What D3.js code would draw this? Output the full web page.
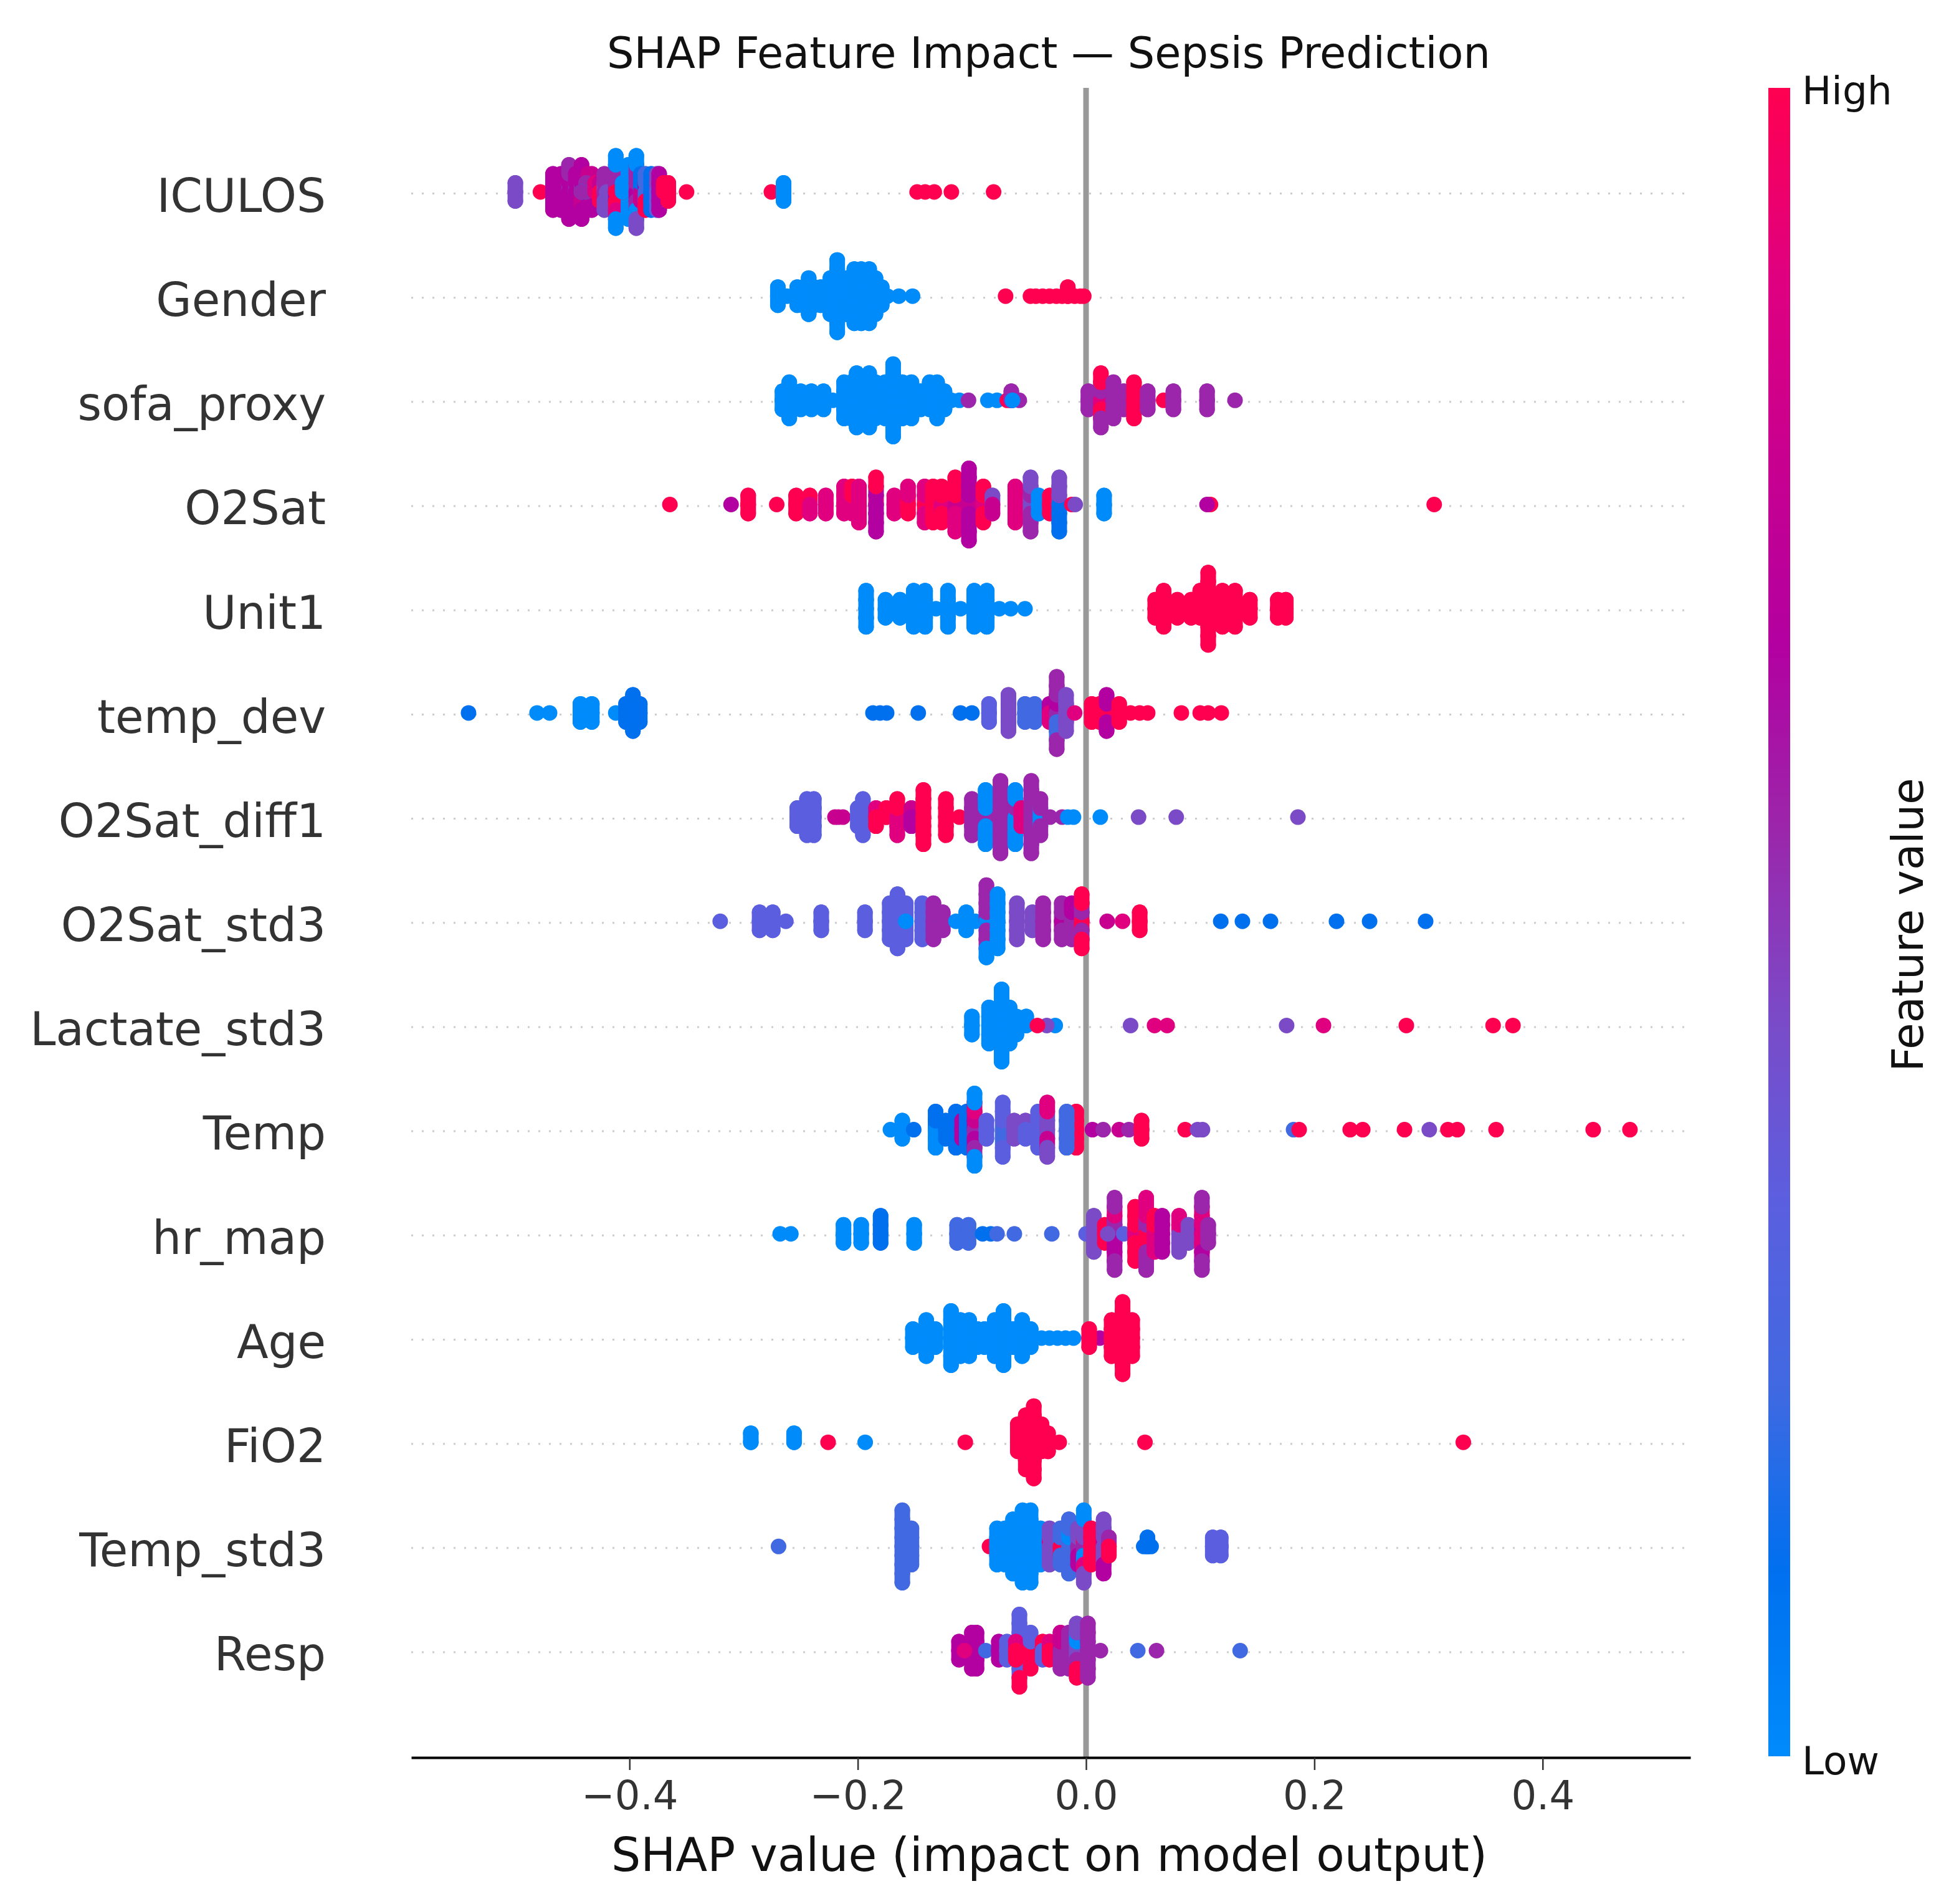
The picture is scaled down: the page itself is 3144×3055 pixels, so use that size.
<!DOCTYPE html>
<html>
<head>
<meta charset="utf-8">
<script src="https://cdn.jsdelivr.net/npm/d3@7/dist/d3.min.js"></script>
<style>
  html, body { margin: 0; background: #fff; }
  svg { display: block; font-family: "DejaVu Sans", sans-serif; }
</style>
</head>
<body>
<div id="chart"></div>
<script>
// Feature order, top to bottom.
const featureNames = ["ICULOS","Gender","sofa_proxy","O2Sat","Unit1","temp_dev","O2Sat_diff1","O2Sat_std3","Lactate_std3","Temp","hr_map","Age","FiO2","Temp_std3","Resp"];
const xTicks = [-0.4,-0.2,0,0.2,0.4];

// Each entry: [SHAP value, [feature level of every sample in that swarm column]].
// Levels run 0 (low) to 9 (high); list order is centre, up, down, up, down...
const iculos = [
[-.5,[4,4,4]],[-.478,[9]],[-.467,[6,6,6,6,6]],[-.46,[6,6,6,6,6]],[-.453,[6,5,6,6,6,5,6]],[-.447,[4,5,6,6,6]],[-.442,[6,5,7,6,7,6,6]],[-.436,[7,7,6,7,6]],[-.433,[7,7,7,7,6]],[-.438,[5,5]],[-.442,[0]],[-.442,[5]],[-.43,[7,8]],[-.426,[8,7,9]],
[-.422,[4,4,5,5,4]],[-.42,[4]],[-.412,[5,8,6,5,9,5,8,0,0]],[-.412,[9]],[-.401,[0,0,0,0,0,0,0]],[-.406,[9,0]],[-.394,[5,5,6,5,5,5,0,0,4]],[-.39,[5,1,7,1]],[-.386,[6,6,2,2,9]],[-.381,[1,1,1,1,1]],[-.376,[3,4,3,4,3]],[-.374,[6,6,6,6,6]],[-.37,[8,9]],[-.366,[9,9,9]],[-.35,[9]],
[-.2757,[9]],[-.265,[0,0,0]],[-.148,[9]],[-.141,[9]],[-.133,[9]],[-.118,[9]],[-.081,[9]]];
const gender = [
[-.27,[0,0,0]],[-.262,[0]],[-.253,[0,0,0]],[-.248,[0,0,0]],[-.243,[0,0,0,0,0]],[-.238,[0,0,0]],[-.2325,[0,0,0]],[-.224,[0,0,0,0,0]],[-.218,[0,0,0,0,0,0,0,0,0]],[-.21,[0,0,0,0,0]],[-.203,[0,0,0,0,0,0,0]],[-.197,[0,0,0,0,0,0,0]],[-.19,[0,0,0,0,0,0,0]],[-.1845,[0,0,0,0,0]],[-.179,[0,0,0]],[-.174,[0]],[-.164,[0]],[-.152,[0]],
[-.0705,[9]],[-.0487,[9]],[-.044,[9]],[-.038,[9]],[-.032,[9]],[-.026,[9]],[-.021,[9]],[-.016,[9,9]],[-.01,[9]],[-.005,[9]],[-.002,[9]]];
const sofaProxy = [
[-.266,[0,0,0]],[-.26,[0,0,0,0,0]],[-.25,[0,0,0]],[-.2406,[0,0,0]],[-.23,[0,0,0]],[-.222,[0]],[-.212,[0,0,0,0,0]],[-.206,[0,0,0,0,0]],[-.201,[0,0,0,0,0,0,0]],[-.19,[0,0,0,0,0,0,0]],[-.1845,[0,0,0,0,0]],[-.176,[0,0,0,0,0]],[-.169,[0,0,0,0,0,0,0,0,0]],[-.161,[0,0,0,0,0]],[-.153,[0,0,0,0,0]],[-.145,[0,0,0]],[-.137,[0,0,0,0]],[-.1305,[0,0,0,0,0]],[-.124,[0,0,0]],[-.118,[0]],[-.111,[0]],[-.103,[5]],[-.086,[0]],[-.078,[0]],[-.069,[9]],[-.0585,[5]],[-.0655,[5,5]],[-.0645,[0]],
[.002,[5,5,5]],[.013,[5,5,8,5,9,9,5]],[.024,[5,5,5,5,5]],[.033,[5,5,5]],[.042,[9,9,9,9,9]],[.054,[5,5,5]],[.068,[9]],[.0765,[5,5,5]],[.106,[5,5,5]],[.1305,[5]]];
const o2Sat = [
[-.3646,[9]],[-.311,[6]],[-.296,[9,9,9]],[-.271,[9]],[-.254,[9,9,9]],[-.242,[8,9,8]],[-.228,[8,8,8]],[-.212,[8,8,8,8]],[-.205,[9,8,8,9]],[-.199,[8,8,8,8,8]],[-.184,[7,8,6,6,6,9,6]],[-.168,[9,8,8]],[-.156,[9,9,9,8]],[-.1414,[9,8,9,8,8]],[-.134,[9,9,9,9,9]],[-.1266,[7,9,8,9,9]],[-.1146,[8,9,7,9,8,9,8]],[-.1026,[6,6,7,6,6,6,6,6,6]],[-.09,[9,8,8,9,9]],[-.082,[4,4,7]],[-.062,[8,8,8,8,8]],[-.0486,[5,4,4,5,5,4,5]],[-.0415,[0,0,0]],[-.0317,[9,9,9]],[-.0235,[1,4,1,4,1,4,1]],[-.0125,[9]],[-.0095,[4]],[.0158,[0,0,0]],[.109,[9]],[.106,[6]],[.305,[9]]];
const unit1 = [
[-.1927,[0,0,0,0,0]],[-.1757,[0,0,0]],[-.163,[0,0,0]],[-.151,[0,0,0,0,0]],[-.141,[0,0,0,0,0]],[-.1315,[0]],[-.121,[0,0,0,0,0]],[-.11,[0]],[-.098,[0,0,0,0,0]],[-.087,[0,0,0,0,0]],[-.076,[0]],[-.066,[0]],[-.0535,[0]],
[.0606,[9,9,9]],[.068,[9,9,9,9,9]],[.08,[9,9,9]],[.092,[9,9,9]],[.1,[9,9,9,9]],[.107,[9,9,9,9,9,9,9,9,9]],[.1195,[9,9,9,9,9]],[.1305,[9,9,9,9,9]],[.1435,[9,9,9]],[.168,[9,9,9]],[.175,[9,9,9]]];
const tempDev = [
[-.541,[1]],[-.481,[0]],[-.47,[0]],[-.443,[0,0,0]],[-.433,[0,0,0]],[-.412,[0]],[-.403,[1,1,1]],[-.397,[1,1,1,1,1]],[-.391,[1,1,1]],[-.1867,[1]],[-.1805,[1]],[-.1747,[1]],[-.147,[1]],[-.11,[1]],[-.1,[1]],
[-.085,[3,3,3]],[-.068,[4,4,4,4,4]],[-.0535,[2,2,2]],[-.045,[2,2,2]],[-.032,[8,6,8]],[-.0257,[5,6,5,6,2,5,2,5,5]],[-.0175,[4,4,4,4,4]],[-.01,[8]],[.005,[9,9,9]],[.012,[9,9,9]],[.018,[6,9,9,6,6]],[.029,[9,9,9]],[.039,[9]],[.047,[9]],[.054,[9]],[.0835,[9]],[.1,[9]],[.107,[9]],[.1185,[9]]];
const o2SatDiff1 = [
[-.253,[3,3,3]],[-.2445,[3,3,3,3,3]],[-.2385,[3,3,3,3,3]],[-.22,[7]],[-.217,[7]],[-.213,[7]],[-.2,[3,3,3]],[-.1955,[3,3,3,3,3]],[-.184,[8,8,9]],[-.175,[8,9]],[-.1654,[7,9,8,9,8]],[-.153,[6,7,6]],[-.1425,[9,9,9,9,9,9,9]],[-.1228,[9,9,9,9,9]],[-.111,[9]],[-.1,[5,5,5,5,5]],[-.088,[5,5,5,0,0,0,0]],[-.075,[5,5,5,5,5,5,5,5,5]],[-.062,[5,5,0,5,0,0,0]],[-.0567,[8,8,8]],[-.048,[5,5,5,5,5,5,5,5,5]],[-.04,[5,0,0,5,5]],[-.0316,[5]],[-.021,[5]],[-.016,[0]],[-.011,[0]],[.0125,[0]],[.046,[4]],[.079,[4]],[.1856,[4]]];
const o2SatStd3 = [
[-.3205,[3]],[-.286,[3,3,3]],[-.2745,[3,3,3]],[-.263,[3]],[-.232,[3,3,3]],[-.1937,[3,3,3]],[-.172,[3,3,3,3,3]],[-.1652,[3,3,3,3,3,3,3]],[-.158,[3,3,3,3,3]],[-.1435,[0,3,3,3,3]],[-.1337,[5,5,5,5,5]],[-.1255,[0,5,5]],[-.158,[0]],[-.114,[0]],[-.105,[0,0,0]],[-.097,[0]],[-.0873,[0,5,0,5,5,5,5,5,0]],[-.0775,[0,0,0,0,0,0,0]],[-.0606,[4,4,4,4,4]],[-.047,[4,4,4]],[-.0376,[6,5,5,5,5]],[-.0213,[6,5,6,5,5]],[-.0125,[6,5,5,6,5]],[-.0038,[9,5,9,5,5,9,9]],[.0185,[7]],[.032,[8]],[.047,[9,9,9]],[.118,[1]],[.137,[1]],[.1616,[1]],[.2194,[1]],[.2484,[1]],[.2975,[1]]];
const lactateStd3 = [
[-.1,[0,0,0]],[-.085,[0,0,0,0,0]],[-.074,[0,0,0,0,0,0,0,0,0]],[-.067,[0,0,0,0,0]],[-.061,[0,0,0]],[-.0524,[0,0]],[-.027,[0]],[-.0344,[4]],[-.0426,[9]],[.039,[4]],[.06,[8]],[.071,[8]],[.1757,[4]],[.208,[8]],[.2806,[9]],[.3566,[9]],[.374,[9]]];
const temp = [
[-.1714,[0]],[-.161,[0,0,0]],[-.151,[1]],[-.1318,[0,1,0,1,0]],[-.1228,[1,1,1]],[-.114,[1,1,1,1,1]],[-.1086,[6,6,6]],[-.1045,[1,1,1,1,1]],[-.0977,[5,6,5,7,6,8,5,0,0]],[-.0873,[3,3,3]],[-.073,[3,3,2,3,2,3,3]],[-.063,[4,4,4]],[-.053,[3,4,3]],[-.042,[3,3,3,3,3]],[-.034,[7,4,4,4,7,8,4]],[-.0086,[9,9,9,9,9]],[-.017,[2,2,2,2,2]],[.0056,[6]],[.015,[5]],[.029,[7]],[.0375,[5]],[.0486,[9,9,9]],[.0868,[9]],[.0977,[4]],[.102,[4]],[.1818,[2]],[.1867,[9]],[.2314,[9]],[.2424,[9]],[.279,[9]],[.3007,[4]],[.317,[9]],[.3252,[9]],[.3592,[9]],[.4443,[9]],[.4765,[9]]];
const hrMap = [
[-.268,[0]],[-.2586,[0]],[-.2125,[0,0,0]],[-.197,[0,0,0]],[-.18,[1,1,1,1]],[-.1506,[0,0,0]],[-.113,[2,2,2]],[-.103,[2,2,2]],[-.0906,[1]],[-.0835,[1]],[-.078,[2]],[-.0628,[2]],[-.03,[2]],[0,[3]],
[.0068,[4,4,4,4,4]],[.0165,[9,9,9]],[.025,[6,5,7,5,6,8,6,5,5]],[.019,[4]],[.033,[3]],[.043,[9,9,8,9,9,9,9]],[.0527,[8,5,9,5,9,8,5,8,5]],[.06,[9,9,8,9,8]],[.0667,[6,6,6,6,6]],[.0815,[4,8,4,8,4]],[.0897,[4,4,4]],[.1015,[8,6,8,8,8,8,6,5,5]],[.107,[5,5,5]]];
const age = [
[-.1517,[0,0,0]],[-.14,[0,0,0,0,0]],[-.132,[0,0,0]],[-.1183,[0,0,0,0,0,0,0]],[-.11,[0,0,0,0,0]],[-.1024,[0,0,0,0,0]],[-.095,[0,0,0]],[-.089,[0,0,0]],[-.08,[0,0,0,0,0]],[-.0723,[0,0,0,0,0,0,0]],[-.064,[0,0,0]],[-.056,[0,0,0,0,0]],[-.0485,[0,0,0]],[-.039,[0]],[-.032,[0]],[-.025,[0]],[-.018,[0]],[-.011,[0]],[.012,[6]],[.0027,[9,9,9]],[.0224,[9,9,9,9,9]],[.032,[9,9,9,9,9,9,9,9,9]],[.0404,[9,9,9,9,9]]];
const fiO2 = [
[-.2937,[0,0]],[-.2558,[0,0]],[-.226,[9]],[-.1935,[0]],[-.1058,[9]],[-.0598,[9,9,9,9]],[-.0528,[9,9,9,9,9,9,9]],[-.0458,[9,9,9,9,9,9,9,9,9]],[-.039,[9,9,9,9]],[-.0333,[9,9,9]],[-.0235,[9]],[.0516,[9]],[.3305,[9]]];
const tempStd3 = [
[-.2694,[2]],[-.161,[2,2,2,2,2,2,2,2,2]],[-.153,[2,2,2,2,2]],[-.0846,[9]],[-.078,[0,0,0,0,0]],[-.071,[0,0,0,0,0]],[-.064,[0,0,0,0,0,0,0]],[-.0556,[0,0,0,0,0,0,0,0,0]],[-.0486,[0,0,0,0,0,0,0,0,0]],[-.04,[0,0,0,0,0]],[-.032,[4,8,4,4,4]],[-.0224,[9,2,9,2,2]],[-.015,[0,2,2,0,2,2,2]],[-.007,[6,4,5,4,6]],[-.002,[4,9,5,4,0,4,8,0,4]],[.0044,[9,8,9,9,9]],[.0154,[4,6,4,4,4,4,6]],[.02,[6,5,9]],[.0505,[1]],[.0538,[1,1]],[.057,[1]],[.111,[3,3,3]],[.118,[3,3,3]]];
const resp = [
[-.1113,[6,6,6]],[-.1,[6,6,6,6,6]],[-.096,[6,6,6,6,6]],[-.1065,[8]],[-.0878,[2]],[-.0764,[6,6,6]],[-.0693,[3,3,3]],[-.0584,[3,3,3,3,3,3,3,3,9]],[-.0615,[8,8,9]],[-.0486,[9,9,9,3,9]],[-.038,[9,9,3]],[-.032,[9,8,9]],[-.0224,[7,7,5,7,5]],[-.015,[3,5,5,5,5]],[-.0082,[5,4,4,0,5,4,9]],[.0016,[5,5,5,5,5,5,5]],[.0126,[5]],[.0453,[2]],[.0617,[5]],[.135,[2]]];

const featureRows = [iculos,gender,sofaProxy,o2Sat,unit1,tempDev,o2SatDiff1,o2SatStd3,lactateStd3,temp,hrMap,age,fiO2,tempStd3,resp];

// Colour ramp anchors for levels 0 to 9.
const rampColors = ["#008bfb","#0070ef","#4169e1","#5b5fdf","#7b4ac7","#9b26ab","#b300a0","#c8008f","#e0007f","#ff0051"];

const W = 3144, H = 3055;
const plot = { left: 660, right: 2713, top: 141, bottom: 2820 };
const dotRadius = 12.5;

const x = d3.scaleLinear().domain([-0.5912, 0.5295]).range([plot.left, plot.right]);
const y = d3.scalePoint().domain(featureNames).range([310.5, 2651]);
// Swarm layer index to pixel offset; markers sit a little above the row guide.
const layerY = d3.scaleLinear().domain([-4, 4]).range([55.5, -60.5]);
const color = d3.scaleLinear().domain(d3.range(10)).range(rampColors).interpolate(d3.interpolateRgb);

const svg = d3.select("#chart").append("svg").attr("width", W).attr("height", H);
svg.append("rect").attr("width", W).attr("height", H).attr("fill", "#fff");

// Row guides
svg.append("g").selectAll("line").data(featureNames).join("line")
  .attr("x1", plot.left).attr("x2", plot.right)
  .attr("y1", d => y(d)).attr("y2", d => y(d))
  .attr("stroke", "#cccccc").attr("stroke-width", 3).attr("stroke-dasharray", "3 14");

// Zero line
svg.append("line")
  .attr("x1", x(0)).attr("x2", x(0)).attr("y1", plot.top).attr("y2", plot.bottom)
  .attr("stroke", "#999999").attr("stroke-width", 9);

// Swarm markers: each listed sample takes the next layer out from the centre line,
// and a round-capped segment joins it to the layer inside it so columns read as one body.
const layerOf = k => Math.ceil(k / 2) * (k % 2 ? 1 : -1);
featureNames.forEach((name, r) => {
  const points = featureRows[r].flatMap(([shap, levels]) =>
    levels.map((level, k) => ({ shap, level, layer: layerOf(k), inner: k > 2 ? layerOf(k - 2) : 0 })));
  const marks = svg.append("g").attr("transform", `translate(0,${y(name)})`)
    .selectAll("g").data(points).join("g");
  marks.filter(d => d.layer !== 0).append("line")
    .attr("x1", d => x(d.shap)).attr("x2", d => x(d.shap))
    .attr("y1", d => layerY(d.inner)).attr("y2", d => layerY(d.layer))
    .attr("stroke", d => color(d.level)).attr("stroke-width", dotRadius * 2).attr("stroke-linecap", "round");
  marks.append("circle")
    .attr("cx", d => x(d.shap))
    .attr("cy", d => layerY(d.layer))
    .attr("r", dotRadius)
    .attr("fill", d => color(d.level));
});

// X axis
const xAxis = svg.append("g").attr("transform", `translate(0,${plot.bottom})`)
  .call(d3.axisBottom(x).tickValues(xTicks).tickSizeInner(20).tickSizeOuter(0).tickPadding(18)
    .tickFormat(d => d3.format(".1f")(d).replace("-", "\u2212")));
xAxis.select(".domain").attr("stroke", "#000").attr("stroke-width", 4);
xAxis.selectAll(".tick line").attr("stroke", "#333").attr("stroke-width", 2.5);
xAxis.selectAll(".tick text").attr("fill", "#333").attr("font-size", 64)
  .attr("font-family", "'DejaVu Sans'");

// Feature labels
const yAxis = svg.append("g").attr("transform", `translate(${plot.left},0)`)
  .call(d3.axisLeft(y).tickSize(0).tickPadding(137));
yAxis.select(".domain").remove();
yAxis.selectAll(".tick text").attr("fill", "#333").attr("font-size", 74)
  .attr("font-family", "'DejaVu Sans'").attr("dy", "0.39em");

// Title and axis title
svg.append("text").attr("x", 1683).attr("y", 109).attr("text-anchor", "middle")
  .attr("font-size", 68.6).attr("fill", "#111").text("SHAP Feature Impact \u2014 Sepsis Prediction");
svg.append("text").attr("x", 1684).attr("y", 3002).attr("text-anchor", "middle")
  .attr("font-size", 74.5).attr("fill", "#111").text("SHAP value (impact on model output)");

// Colour bar
const barScale = d3.scaleLinear().domain([0, 9]).range([2818, 141]);
const defs = svg.append("defs");
const grad = defs.append("linearGradient").attr("id", "ramp")
  .attr("x1", 0).attr("x2", 0).attr("y1", 1).attr("y2", 0);
grad.selectAll("stop").data(rampColors).join("stop")
  .attr("offset", (d, i) => i / 9).attr("stop-color", d => d);
svg.append("rect").attr("x", 2838).attr("width", 35)
  .attr("y", barScale(9)).attr("height", barScale(0) - barScale(9))
  .attr("fill", "url(#ramp)");
svg.append("text").attr("x", 2892).attr("y", 167).attr("font-size", 63).attr("fill", "#111").text("High");
svg.append("text").attr("x", 2892).attr("y", 2847).attr("font-size", 63).attr("fill", "#111").text("Low");
svg.append("text").attr("transform", "translate(3086,1484) rotate(-90)").attr("text-anchor", "middle")
  .attr("font-size", 69).attr("fill", "#111").text("Feature value");
</script>
</body>
</html>
